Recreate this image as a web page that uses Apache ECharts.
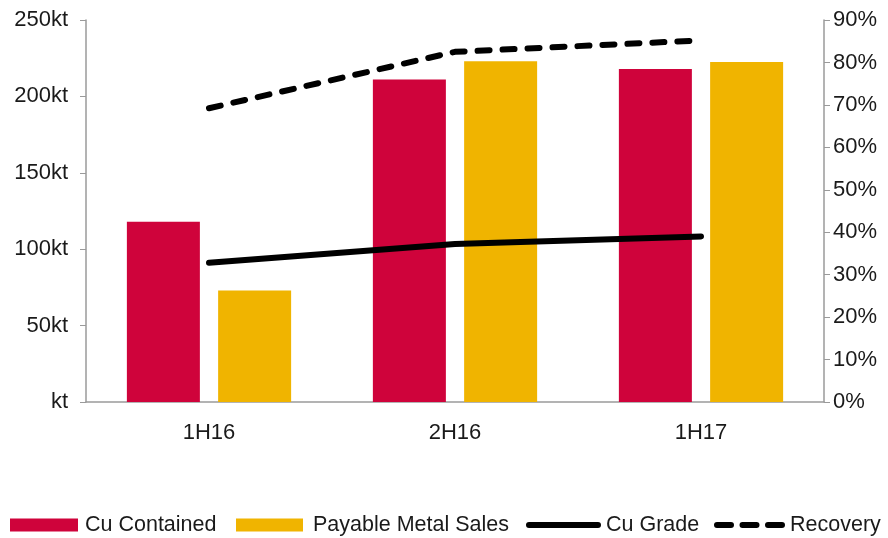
<!DOCTYPE html>
<html>
<head>
<meta charset="utf-8">
<title>Cu Contained vs Payable Metal Sales</title>
<script src="https://cdn.jsdelivr.net/npm/echarts@6/dist/echarts.min.js"></script>
<style>
  html, body { margin: 0; padding: 0; background: #fff; }
  #chart { width: 888px; height: 538px; }
</style>
</head>
<body>
<div id="chart"></div>
<script>
// half-year periods
const categories = ['1H16', '2H16', '1H17']
// kt
const cuContained = [118, 211, 218]
const payableSales = [73, 223, 222.5]
// %
const cuGrade = [32.8, 37.2, 39]
const recovery = [69.2, 82.5, 85.2]

const FONT = '"Liberation Sans", Arial, sans-serif'
const axisGrey = '#9a9a9a'
const textColor = '#1a1a1a'

// rounded stroke piece from a to b, 6px thick, inside a 13px tall icon box
function piece(a, b) {
  return 'M' + (a + 3) + ',3.5L' + (b - 3) + ',3.5A3,3 0 0 1 ' + (b - 3) + ',9.5L' +
    (a + 3) + ',9.5A3,3 0 0 1 ' + (a + 3) + ',3.5Z'
}
// the first two tiny segments keep the icon's bounding box at w x 13
function boxed(w, body) {
  return 'path://M0,0L0.01,0M' + w + ',13L' + (w - 0.01) + ',13' + body
}
const solidIcon = boxed(75, piece(0, 75))
const dashIcon = boxed(71, piece(0, 20) + piece(25.5, 45.5) + piece(51, 71))

// one legend component per entry so each can sit where the reference puts it
function legendItem(name, left, width, icon, padLeft) {
  return {
    top: 514,
    left: left,
    padding: 0,
    itemWidth: width,
    itemHeight: 13,
    data: [{ name: name, icon: icon }],
    textStyle: {
      fontFamily: FONT, fontSize: 21.5, color: textColor,
      padding: [0, 0, 0, padLeft]
    }
  }
}

const chart = echarts.init(document.getElementById('chart'))
chart.setOption({
  animation: false,
  textStyle: { fontFamily: FONT, color: textColor },
  grid: { left: 86, right: 64, top: 20, bottom: 136 },
  legend: [
    legendItem('Cu Contained', 10, 68, 'rect', 2),
    legendItem('Payable Metal Sales', 236, 67, 'rect', 5),
    legendItem('Cu Grade', 526, 75, solidIcon, 0),
    legendItem('Recovery', 714, 71, dashIcon, 0)
  ],
  xAxis: {
    type: 'category',
    data: categories,
    axisLine: { lineStyle: { color: axisGrey, width: 1.5 } },
    axisTick: { show: false },
    axisLabel: { margin: 20, fontSize: 22, color: textColor, fontFamily: FONT }
  },
  yAxis: [
    {
      type: 'value',
      min: 0, max: 250, interval: 50,
      splitLine: { show: false },
      axisLine: { show: true, lineStyle: { color: axisGrey, width: 1.5 } },
      axisTick: { show: true, length: 6, lineStyle: { color: axisGrey } },
      axisLabel: {
        margin: 18, fontSize: 22, color: textColor, fontFamily: FONT,
        formatter: v => (v === 0 ? 'kt' : v + 'kt')
      }
    },
    {
      type: 'value',
      min: 0, max: 90, interval: 10,
      splitLine: { show: false },
      axisLine: { show: true, lineStyle: { color: axisGrey, width: 1.5 } },
      axisTick: { show: true, length: 6, lineStyle: { color: axisGrey } },
      axisLabel: {
        margin: 9, fontSize: 22, color: textColor, fontFamily: FONT,
        formatter: v => v + '%'
      }
    }
  ],
  series: [
    {
      name: 'Cu Contained',
      type: 'bar',
      data: cuContained,
      barWidth: 73,
      barGap: '25%',
      itemStyle: { color: '#CF033B' }
    },
    {
      name: 'Payable Metal Sales',
      type: 'bar',
      data: payableSales,
      barWidth: 73,
      itemStyle: { color: '#F0B400' }
    },
    {
      name: 'Cu Grade',
      type: 'line',
      yAxisIndex: 1,
      data: cuGrade,
      symbol: 'none',
      lineStyle: { color: '#000', width: 6, cap: 'round' },
      itemStyle: { color: '#000' }
    },
    {
      name: 'Recovery',
      type: 'line',
      yAxisIndex: 1,
      data: recovery,
      symbol: 'none',
      lineStyle: { color: '#000', width: 6, type: [12, 13], cap: 'round' },
      itemStyle: { color: '#000' }
    }
  ]
})
</script>
</body>
</html>
